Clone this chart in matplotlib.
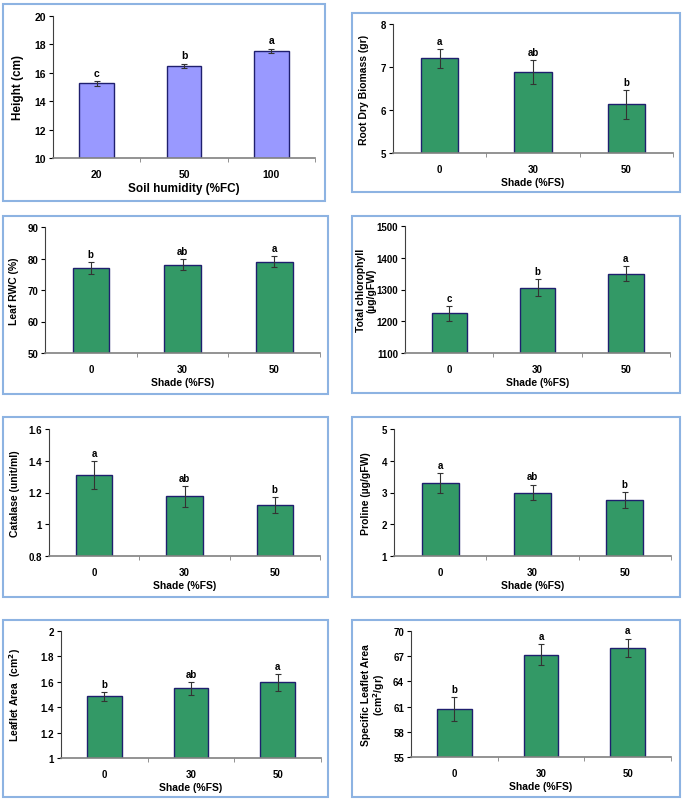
import matplotlib.pyplot as plt
from matplotlib.patches import Rectangle

plt.rcParams['font.family'] = ['Liberation Sans', 'DejaVu Sans']
plt.rcParams['font.weight'] = 'bold'

W, H = 685, 803

shade = ['0', '30', '50']
humidity = ['20', '50', '100']

# Panel data
height_mean = [15.25, 16.5, 17.55]
height_err = [0.15, 0.15, 0.15]
height_let = ['c', 'b', 'a']

root_mean = [7.2, 6.88, 6.13]
root_err = [0.22, 0.28, 0.33]
root_let = ['a', 'ab', 'b']

rwc_mean = [77.0, 78.0, 79.0]
rwc_err = [1.8, 1.8, 1.7]
rwc_let = ['b', 'ab', 'a']

chl_mean = [1225, 1305, 1350]
chl_err = [23, 27, 24]
chl_let = ['c', 'b', 'a']

cat_mean = [1.31, 1.175, 1.12]
cat_err = [0.09, 0.065, 0.05]
cat_let = ['a', 'ab', 'b']

pro_mean = [3.3, 3.0, 2.77]
pro_err = [0.3, 0.25, 0.25]
pro_let = ['a', 'ab', 'b']

la_mean = [1.485, 1.55, 1.595]
la_err = [0.035, 0.05, 0.065]
la_let = ['b', 'ab', 'a']

sla_mean = [60.7, 67.2, 68.0]
sla_err = [1.4, 1.2, 1.1]
sla_let = ['b', 'a', 'a']

fig = plt.figure(figsize=(W / 100, H / 100), dpi=100)


def frame(x0, y0, x1, y1):
    # light blue box round each panel (pixel coords, top-left origin)
    fig.patches.append(Rectangle((x0 / W, 1 - y1 / H), (x1 - x0) / W, (y1 - y0) / H,
                                 transform=fig.transFigure, fill=False,
                                 edgecolor='#8db3e2', linewidth=1.5))


def panel(box, axbox, cats, mean, err, let, ylim, yticks, yticklabels,
          ylabel, xlabel, ylab_x, color='#339966', tfs=7, lfs=7.5):
    frame(*box)
    l, t, r, b = axbox
    ax = fig.add_axes([l / W, 1 - b / H, (r - l) / W, (b - t) / H])
    x = range(len(cats))
    ax.bar(x, mean, width=0.4, color=color, edgecolor='#1f1f6e', linewidth=1.0,
           zorder=2)
    ax.errorbar(x, mean, yerr=err, fmt='none', ecolor='#333333', elinewidth=0.8,
                capsize=2, capthick=0.8, zorder=3)
    span = ylim[1] - ylim[0]
    for i in x:
        ax.text(i, mean[i] + err[i] + span * 0.025, let[i], ha='center',
                va='bottom', fontsize=tfs, fontweight='bold')
    ax.set_xlim(-0.5, len(cats) - 0.5)
    ax.set_ylim(*ylim)
    ax.set_yticks(yticks)
    ax.set_yticklabels(yticklabels, fontsize=tfs, fontweight='bold')
    ax.set_xticks(list(x))
    ax.set_xticklabels(cats, fontsize=tfs, fontweight='bold')
    ax.set_xticks([0.5, 1.5, 2.5], minor=True)
    ax.tick_params(axis='x', which='major', length=0, pad=8)
    ax.tick_params(axis='x', which='minor', length=3, color='#808080')
    ax.tick_params(axis='y', length=3, width=0.8, pad=2)
    for s in ['top', 'right']:
        ax.spines[s].set_visible(False)
    ax.spines['left'].set_color('#404040')
    ax.spines['bottom'].set_color('#808080')
    ax.spines['bottom'].set_linewidth(1.2)
    ax.set_ylabel(ylabel, fontsize=lfs, fontweight='bold', va='center',
                  linespacing=1.05)
    # place y label centre at a pixel x position
    ax.yaxis.set_label_coords((ylab_x - l) / (r - l), 0.5)
    ax.set_xlabel(xlabel, fontsize=lfs, fontweight='bold', labelpad=2)
    return ax


panel((3, 5, 325, 202), (53, 17, 315, 159), humidity, height_mean, height_err,
      height_let, (10, 20), [10, 12, 14, 16, 18, 20],
      ['10', '12', '14', '16', '18', '20'], 'Height (cm)', 'Soil humidity (%FC)',
      18, color='#9999ff', tfs=7.5, lfs=8.5)

panel((352, 14, 680, 193), (393, 25, 673, 154), shade, root_mean, root_err,
      root_let, (5, 8), [5, 6, 7, 8], ['5', '6', '7', '8'],
      'Root Dry Biomass (gr)', 'Shade (%FS)', 364)

panel((3, 217, 328, 395), (45, 228, 320, 354), shade, rwc_mean, rwc_err,
      rwc_let, (50, 90), [50, 60, 70, 80, 90], ['50', '60', '70', '80', '90'],
      'Leaf RWC (%)', 'Shade (%FS)', 14)

panel((352, 217, 680, 394), (405, 227, 670, 354), shade, chl_mean, chl_err,
      chl_let, (1100, 1500), [1100, 1200, 1300, 1400, 1500],
      ['1100', '1200', '1300', '1400', '1500'],
      'Total chlorophyll\n(µg/gFW)', 'Shade (%FS)', 366)

panel((3, 418, 328, 598), (49, 430, 320, 557), shade, cat_mean, cat_err,
      cat_let, (0.8, 1.6), [0.8, 1.0, 1.2, 1.4, 1.6],
      ['0.8', '1', '1.2', '1.4', '1.6'], 'Catalase (unit/ml)', 'Shade (%FS)', 15)

panel((352, 418, 680, 598), (394, 430, 671, 557), shade, pro_mean, pro_err,
      pro_let, (1, 5), [1, 2, 3, 4, 5], ['1', '2', '3', '4', '5'],
      'Proline (µg/gFW)', 'Shade (%FS)', 366)

panel((3, 621, 328, 798), (61, 632, 321, 759), shade, la_mean, la_err,
      la_let, (1, 2), [1.0, 1.2, 1.4, 1.6, 1.8, 2.0],
      ['1', '1.2', '1.4', '1.6', '1.8', '2'], 'Leaflet Area  (cm$^{\\mathbf{2}}$)',
      'Shade (%FS)', 15)

panel((352, 621, 680, 798), (411, 632, 671, 758), shade, sla_mean, sla_err,
      sla_let, (55, 70), [55, 58, 61, 64, 67, 70],
      ['55', '58', '61', '64', '67', '70'],
      'Specific Leaflet Area\n(cm$^{\\mathbf{2}}$/gr)', 'Shade (%FS)', 374)

fig.savefig('out.png', dpi=100, facecolor='white')
